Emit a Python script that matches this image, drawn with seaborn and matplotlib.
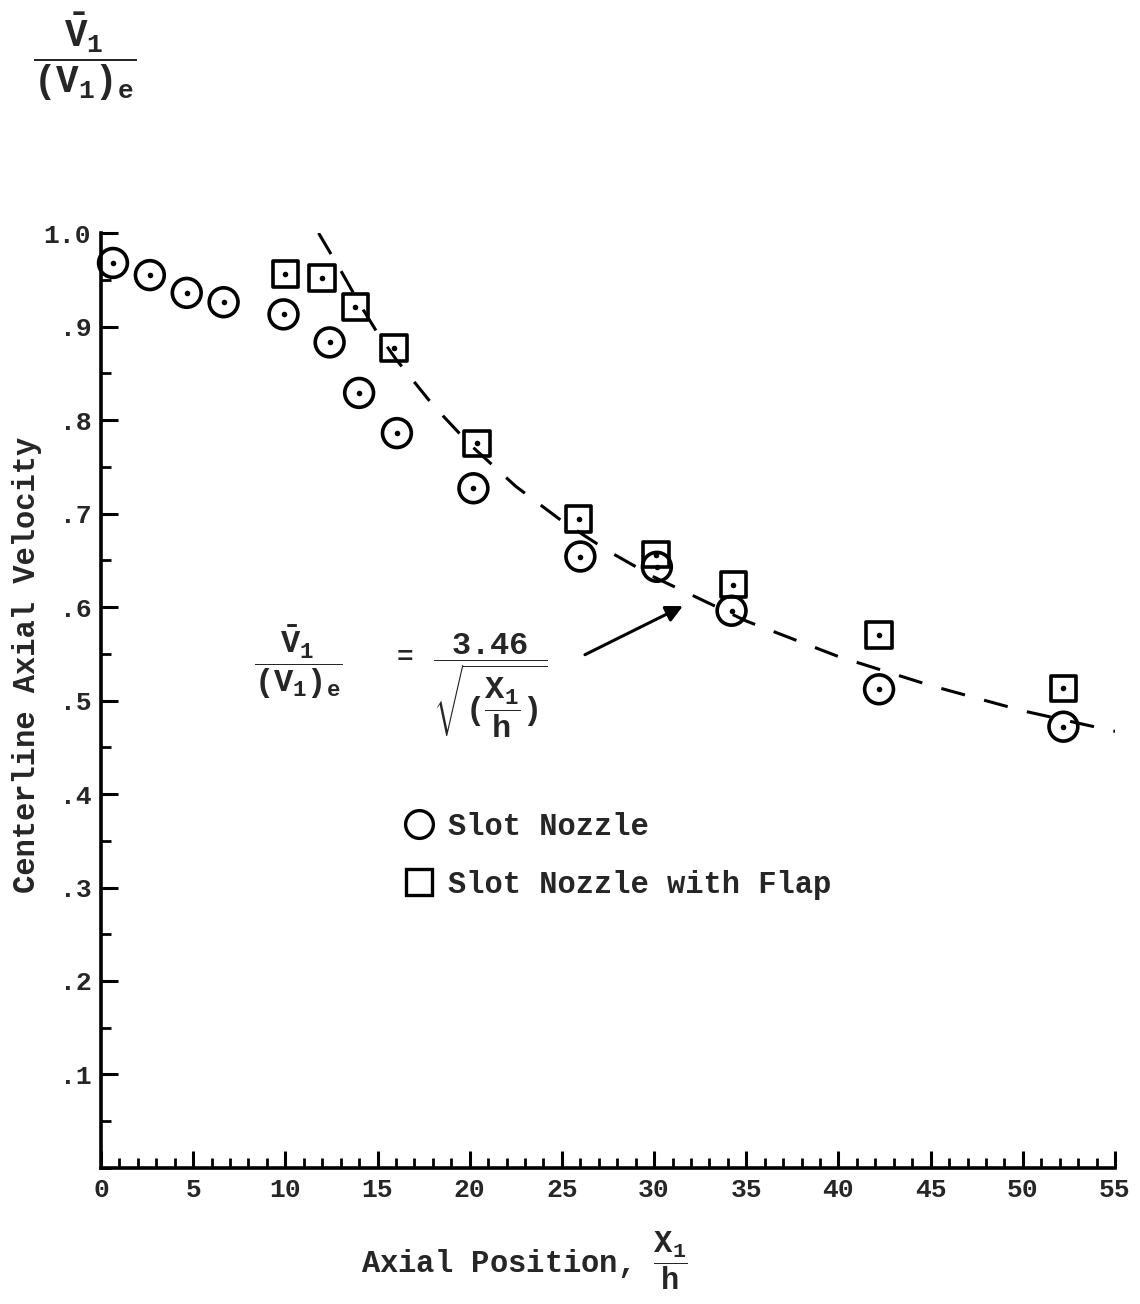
"""Centerline axial velocity decay, slot nozzle with and without flap."""
import numpy as np
import pandas as pd
import seaborn as sns
import matplotlib.pyplot as plt
from matplotlib.lines import Line2D
from matplotlib.ticker import MultipleLocator

# values
slot_x = [0.65, 2.65, 4.65, 6.65, 9.9, 12.4, 14.0, 16.05, 20.2, 26.0, 30.15, 34.2, 42.2, 52.2]
slot_y = [0.968, 0.955, 0.936, 0.926, 0.913, 0.883, 0.829, 0.786, 0.727, 0.654, 0.643, 0.596, 0.512, 0.472]
flap_x = [10.0, 12.0, 13.8, 15.9, 20.4, 25.9, 30.1, 34.3, 42.2, 52.2]
flap_y = [0.956, 0.952, 0.921, 0.877, 0.775, 0.694, 0.656, 0.624, 0.570, 0.513]

# dashed correlation curve
fit_x = [11.8, 13, 14, 15, 16, 18, 20, 22.5, 25, 27.5, 30, 35, 40, 45, 50, 55]
fit_y = [1.0, 0.960, 0.925, 0.893, 0.865, 0.816, 0.774, 0.729, 0.692, 0.660,
         0.632, 0.585, 0.547, 0.516, 0.489, 0.467]

legend_labels = ['Slot Nozzle', 'Slot Nozzle with Flap']
ytick_vals = [0.1, 0.2, 0.3, 0.4, 0.5, 0.6, 0.7, 0.8, 0.9, 1.0]
ytick_labels = ['.1', '.2', '.3', '.4', '.5', '.6', '.7', '.8', '.9', '1.0']

sns.set_style('ticks')
plt.rcParams['font.family'] = ['Liberation Mono', 'DejaVu Sans']
plt.rcParams['font.weight'] = 'bold'
plt.rcParams['axes.labelweight'] = 'bold'
plt.rcParams['mathtext.fontset'] = 'custom'
plt.rcParams['mathtext.rm'] = 'Liberation Mono:bold'
plt.rcParams['mathtext.it'] = 'Liberation Mono:bold'
plt.rcParams['mathtext.bf'] = 'Liberation Mono:bold'

slot = pd.DataFrame({'x': slot_x, 'y': slot_y})
flap = pd.DataFrame({'x': flap_x, 'y': flap_y})
fit = pd.DataFrame({'x': fit_x, 'y': fit_y})

fig = plt.figure(figsize=(11.4, 13.04), dpi=100)
ax = fig.add_axes([0.0886, 0.1043, 0.8895, 0.717])

sns.lineplot(data=fit, x='x', y='y', ax=ax, color='black', lw=2.2,
             linestyle=(0, (8, 6.5)))

# open markers with a dot in the middle
sns.scatterplot(data=slot, x='x', y='y', ax=ax, marker='o', s=430,
                facecolor='none', edgecolor='black', linewidth=2.6, clip_on=False)
sns.scatterplot(data=flap, x='x', y='y', ax=ax, marker='s', s=340,
                facecolor='none', edgecolor='black', linewidth=2.6, clip_on=False)
sns.scatterplot(data=slot, x='x', y='y', ax=ax, marker='o', s=16,
                color='black', linewidth=0)
sns.scatterplot(data=flap, x='x', y='y', ax=ax, marker='o', s=16,
                color='black', linewidth=0)

ax.set_xlim(0, 55)
ax.set_ylim(0, 1.0)
ax.xaxis.set_major_locator(MultipleLocator(5))
ax.xaxis.set_minor_locator(MultipleLocator(1))
ax.set_yticks(ytick_vals)
ax.set_yticklabels(ytick_labels)
ax.yaxis.set_minor_locator(MultipleLocator(0.05))
ax.tick_params(which='major', direction='in', length=12, width=2.2, labelsize=19,
               color='black', pad=7)
ax.tick_params(which='minor', direction='in', length=7, width=2.0, color='black')
sns.despine(ax=ax)
for side in ['left', 'bottom']:
    ax.spines[side].set_linewidth(2.6)
    ax.spines[side].set_color('black')

ax.set_ylabel('Centerline Axial Velocity', fontsize=22)
ax.yaxis.set_label_coords(-0.058, 0.538)
ax.set_xlabel(r'Axial Position, $\dfrac{X_1}{h}$', fontsize=22)
ax.xaxis.set_label_coords(0.418, -0.066)

handles = [
    Line2D([], [], marker='o', ls='none', mfc='none', mec='black', ms=20, mew=2.4),
    Line2D([], [], marker='s', ls='none', mfc='none', mec='black', ms=19, mew=2.4),
]
ax.legend(handles, legend_labels, loc='upper left', bbox_to_anchor=(0.28, 0.397),
          frameon=False, fontsize=22, handletextpad=0.35, labelspacing=0.9,
          borderpad=0, handlelength=1.2)

# correlation written next to the curve
ax.text(10.68, 0.541, r'$\dfrac{\bar{V}_1}{(V_1)_e}$', fontsize=23,
        ha='center', va='center')
ax.text(16.5, 0.545, '=', fontsize=20, ha='center', va='center')
ax.text(21.1, 0.516, r'$\dfrac{3.46}{\sqrt{(\dfrac{X_1}{h})}}$', fontsize=23,
        ha='center', va='center')
ax.annotate('', xy=(31.56, 0.601), xytext=(26.25, 0.549),
            arrowprops=dict(arrowstyle='-|>', lw=2.2, color='black',
                            mutation_scale=25, shrinkA=0, shrinkB=0))

fig.text(85 / 1140, 1 - 57 / 1304, r'$\dfrac{\bar{V}_1}{(V_1)_e}$',
         fontsize=27, ha='center', va='center')

fig.savefig('out.png', dpi=100)
